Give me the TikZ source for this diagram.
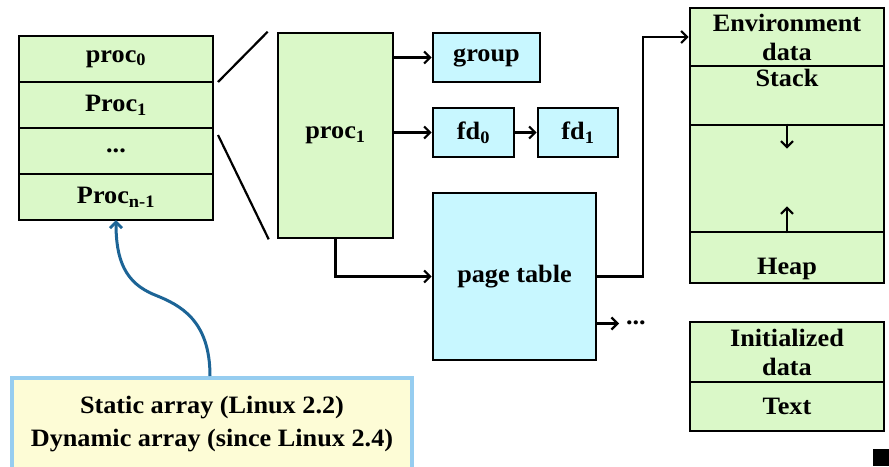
\documentclass[tikz,border=0pt]{standalone}
\usepackage{fontspec}
\setmainfont[FakeStretch=1.05]{Liberation Serif}
\usetikzlibrary{arrows.meta,positioning,calc}
\definecolor{procgreen}{RGB}{218,248,200}
\definecolor{tblblue}{RGB}{200,247,255}
\definecolor{noteyellow}{RGB}{253,252,214}
\definecolor{noteglow}{RGB}{150,205,240}
\definecolor{curveblue}{RGB}{28,100,150}

\begin{document}
\begin{tikzpicture}[x=1pt,y=-1pt,line width=2.2pt,
  >={Straight Barb[length=6pt,width=12pt]},
  every node/.style={font=\fontsize{25}{29}\selectfont\bfseries},
  slot/.style={draw,line width=2.6pt,fill=procgreen,minimum width=194pt,minimum height=46pt,inner sep=0pt,outer sep=0pt},
  seg/.style={draw,line width=2.6pt,fill=procgreen,minimum width=194pt,inner sep=0pt,align=center},
  tbl/.style={draw,line width=2.6pt,fill=tblblue,inner sep=0pt}]
  \clip (0,0) rectangle (889,466);

  % task array
  \node[slot] (a0) at (116,59) {proc\textsubscript{0}};
  \node[slot,below=0pt of a0] (a1) {Proc\textsubscript{1}};
  \node[slot,below=0pt of a1] (a2) {...};
  \node[slot,below=0pt of a2] (a3) {Proc\textsubscript{n-1}};

  % one task and what it points to
  \node[draw,line width=2.6pt,fill=procgreen,minimum width=115pt,minimum height=205pt] (pc) at (335.5,135.5) {proc\textsubscript{1}};
  \node[tbl,minimum width=107pt,minimum height=49pt] (grp) at (486.5,57.5) {group};
  \node[tbl,minimum width=81pt,minimum height=49pt] (fd0) at (473.5,132.5) {fd\textsubscript{0}};
  \node[tbl,minimum width=80pt,minimum height=49pt] (fd1) at (578,132.5) {fd\textsubscript{1}};
  \node[tbl,minimum width=163pt,minimum height=167pt] (pt) at (514.5,276.5) {page table};
  \node[anchor=west,inner sep=0pt] (dots) at (625,323) {...};

  % address space
  \node[seg,minimum height=58pt] (env) at (787,37) {Environment\\data};
  \node[seg,minimum height=59pt,label={[anchor=north,inner sep=3pt]north:Stack}] (stk) at (787,95.5) {};
  \node[seg,minimum height=107pt] (gap) at (787,178.5) {};
  \node[seg,minimum height=51pt,label={[anchor=south,inner sep=3pt]south:Heap}] (heap) at (787,257.5) {};
  \node[seg,minimum height=60pt] (ini) at (787,352) {Initialized\\data};
  \node[seg,minimum height=49pt] (txt) at (787,406.5) {Text};

  % note
  \node[draw=noteglow,line width=4pt,fill=noteyellow,minimum width=400pt,minimum height=92pt,align=center] (note) at (212,424)
    {Static array (Linux 2.2)\\[4pt]Dynamic array (since Linux 2.4)};

  \draw ([xshift=5pt]a0.south east) -- ([xshift=-9pt]pc.north west);
  \draw ([xshift=5pt,yshift=-7pt]a1.south east) -- ([xshift=-8pt]pc.south west);
  \draw[->] (pc.east |- grp.west) -- (grp.west);
  \draw[->] (pc.east |- fd0.west) -- (fd0.west);
  \draw[->] (fd0.east) -- (fd1.west);
  \draw[->] (pc.south) |- (pt.west);
  \draw[->] (pt.east) -- ++(46,0) |- (env.west);
  \draw[->] ([yshift=-47pt]pt.east) -- ([xshift=-6pt]dots.west |- 0,323.5);
  \draw[->] (gap.north) -- ++(0,25);
  \draw[->] (gap.south) -- ++(0,-27);
  \draw[->,curveblue,line width=3pt] ([xshift=-2pt]note.north) .. controls (210,320) and (180,305) .. (155,295)
    .. controls (125,283) and (116,260) .. (a3.south);

  \fill (873,449) rectangle (889,466);
\end{tikzpicture}
\end{document}
